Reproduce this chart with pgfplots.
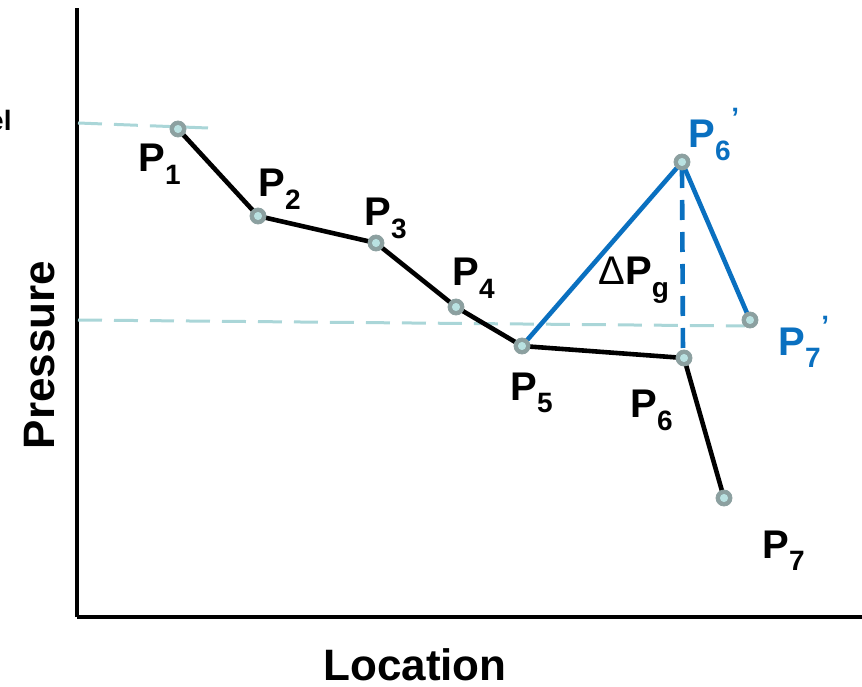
\documentclass[border=0pt]{standalone}
\usepackage{pgfplots}
\pgfplotsset{compat=1.18}
\usepackage{fontspec}
\setmainfont{Liberation Sans}
\definecolor{pblue}{RGB}{10,112,192}
\definecolor{teal}{RGB}{170,214,216}
\definecolor{mgray}{RGB}{140,160,160}
\definecolor{mlight}{RGB}{185,225,225}
\newcommand\Ps[1]{P\raisebox{-0.32em}{\fontsize{14}{14}\selectfont #1}}
\newcommand\Pp[1]{P\raisebox{-0.32em}{\fontsize{14}{14}\selectfont #1}\kern0.02em\raisebox{0.5em}{\fontsize{14}{14}\selectfont\bfseries ’}}
\begin{document}
\begin{tikzpicture}
\begin{axis}[
  scale only axis, width=392.5pt, height=304.5pt,
  xmin=77, xmax=862, ymin=-617, ymax=-8,
  axis x line=bottom, axis y line=left,
  axis line style={-, line width=1.6pt, black},
  xtick=\empty, ytick=\empty,
  clip=false,
]
% reference dashed levels
\addplot[teal, line width=1.5pt, dash pattern=on 12pt off 6pt] coordinates {(78,-123) (208,-128)};
\addplot[teal, line width=1.5pt, dash pattern=on 12pt off 6pt] coordinates {(78,-320) (745,-326)};
% black path
\addplot[black, line width=2.3pt] coordinates {(178,-129) (258,-216) (376,-243) (456,-307) (522,-346) (684,-358) (724,-498)};
% blue path
\addplot[pblue, line width=2.3pt] coordinates {(522,-346) (682,-162) (750,-320)};
\addplot[pblue, line width=2.3pt, dash pattern=on 10pt off 6pt] coordinates {(682,-168) (683,-352)};
% markers
\addplot[only marks, mark=*, mark size=4pt, mark options={fill=mgray, draw=mgray}] coordinates {(178,-129) (258,-216) (376,-243) (456,-307) (522,-346) (684,-358) (724,-498) (682,-162) (750,-320)};
\addplot[only marks, mark=*, mark size=1.8pt, mark options={fill=mlight, draw=mlight}] coordinates {(178,-129) (258,-216) (376,-243) (456,-307) (522,-346) (684,-358) (724,-498) (682,-162) (750,-320)};
% labels
\begin{scope}[every node/.style={font=\fontsize{20}{24}\selectfont\bfseries, inner sep=0pt}]
\node[anchor=base west] at (axis cs:138,-172) {\Ps{1}};
\node[anchor=base west] at (axis cs:258,-197) {\Ps{2}};
\node[anchor=base west] at (axis cs:364,-226) {\Ps{3}};
\node[anchor=base west] at (axis cs:452,-286) {\Ps{4}};
\node[anchor=base west] at (axis cs:510,-400) {\Ps{5}};
\node[anchor=base west] at (axis cs:630,-418) {\Ps{6}};
\node[anchor=base west] at (axis cs:762,-558) {\Ps{7}};
\node[anchor=base west, text=pblue] at (axis cs:688,-148) {\Pp{6}};
\node[anchor=base west, text=pblue] at (axis cs:778,-355) {\Pp{7}};
\node[anchor=base west] at (axis cs:598,-285) {{\mdseries Δ}\Ps{g}};
\node[anchor=base east, font=\fontsize{14}{16}\selectfont\bfseries] at (axis cs:12,-131) {Level};
\node[rotate=90, font=\fontsize{22}{26}\selectfont\bfseries] at (axis cs:40,-355) {Pressure};
\node[font=\fontsize{22}{26}\selectfont\bfseries] at (axis cs:415,-665) {Location};
\end{scope}
\end{axis}
\pgfresetboundingbox
\useasboundingbox (-38.5pt,-34.5pt) rectangle (392.5pt,308.5pt);
\end{tikzpicture}
\end{document}
